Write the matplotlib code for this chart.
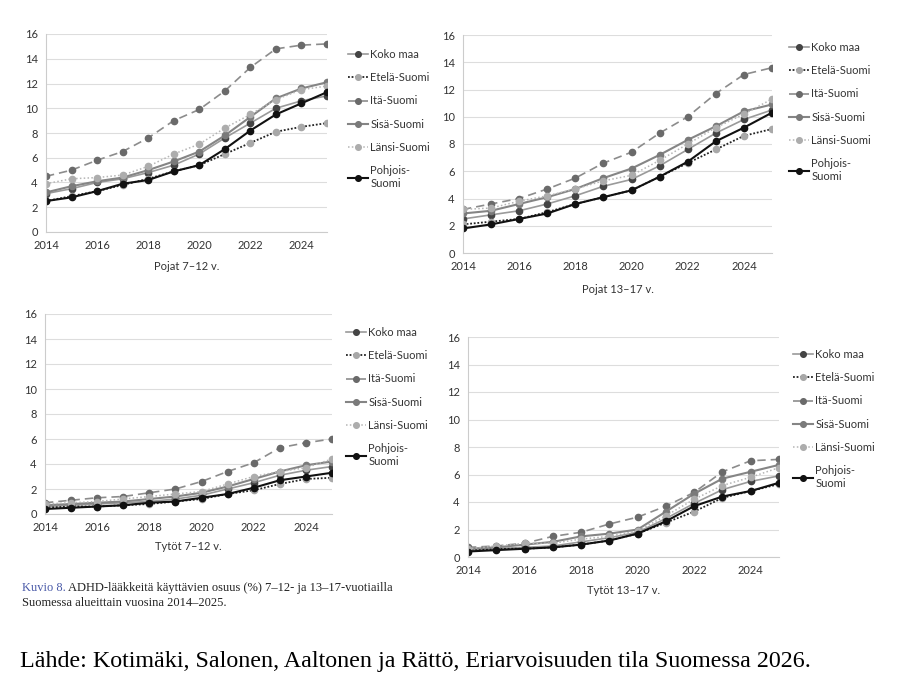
import matplotlib
matplotlib.use("Agg")
import matplotlib.pyplot as plt

W, H = 907, 682

years = list(range(2014, 2026))
regions = ["Koko maa", "Etelä-Suomi", "Itä-Suomi", "Sisä-Suomi", "Länsi-Suomi", "Pohjois-\nSuomi"]

# Pojat 7-12 v.
p712_koko = [3.1, 3.5, 4.0, 4.3, 4.8, 5.4, 6.3, 7.6, 8.8, 10.0, 10.6, 11.0]
p712_etela = [2.5, 2.9, 3.3, 3.8, 4.3, 4.9, 5.4, 6.3, 7.2, 8.1, 8.5, 8.8]
p712_ita = [4.5, 5.0, 5.8, 6.5, 7.6, 9.0, 9.9, 11.4, 13.3, 14.8, 15.1, 15.2]
p712_sisa = [3.2, 3.7, 4.1, 4.4, 5.0, 5.7, 6.5, 7.8, 9.3, 10.8, 11.6, 12.1]
p712_lansi = [3.9, 4.3, 4.4, 4.6, 5.3, 6.3, 7.1, 8.4, 9.5, 10.7, 11.5, 11.8]
p712_pohjois = [2.5, 2.8, 3.3, 3.9, 4.2, 4.9, 5.4, 6.7, 8.2, 9.5, 10.4, 11.3]

# Pojat 13-17 v.
p1317_koko = [2.5, 2.8, 3.1, 3.6, 4.2, 4.9, 5.4, 6.4, 7.6, 8.8, 9.8, 10.5]
p1317_etela = [2.1, 2.3, 2.5, 3.0, 3.6, 4.1, 4.6, 5.6, 6.6, 7.6, 8.6, 9.1]
p1317_ita = [3.2, 3.6, 4.0, 4.7, 5.5, 6.6, 7.4, 8.8, 10.0, 11.7, 13.1, 13.6]
p1317_sisa = [2.9, 3.1, 3.6, 4.1, 4.7, 5.5, 6.2, 7.2, 8.3, 9.3, 10.4, 10.9]
p1317_lansi = [3.2, 3.3, 3.8, 4.2, 4.7, 5.3, 5.7, 6.8, 8.0, 9.2, 10.2, 11.3]
p1317_pohjois = [1.8, 2.1, 2.5, 2.9, 3.6, 4.1, 4.6, 5.6, 6.7, 8.2, 9.2, 10.3]

# Tytöt 7-12 v.
t712_koko = [0.6, 0.7, 0.8, 0.9, 1.0, 1.2, 1.5, 2.0, 2.5, 3.1, 3.5, 3.8]
t712_etela = [0.5, 0.6, 0.6, 0.7, 0.8, 1.0, 1.2, 1.6, 1.9, 2.4, 2.8, 2.9]
t712_ita = [0.9, 1.1, 1.3, 1.4, 1.7, 2.0, 2.6, 3.4, 4.1, 5.3, 5.7, 6.0]
t712_sisa = [0.7, 0.8, 0.9, 1.0, 1.2, 1.4, 1.7, 2.2, 2.8, 3.4, 3.9, 4.2]
t712_lansi = [0.8, 0.9, 1.0, 1.2, 1.4, 1.6, 1.8, 2.4, 3.0, 3.4, 3.7, 4.4]
t712_pohjois = [0.4, 0.5, 0.6, 0.7, 0.9, 1.0, 1.3, 1.6, 2.1, 2.7, 3.0, 3.3]

# Tytöt 13-17 v.
t1317_koko = [0.5, 0.6, 0.7, 0.8, 1.1, 1.4, 1.8, 2.8, 3.9, 4.9, 5.5, 5.9]
t1317_etela = [0.5, 0.6, 0.6, 0.7, 0.9, 1.2, 1.7, 2.5, 3.3, 4.3, 4.8, 5.3]
t1317_ita = [0.7, 0.8, 1.0, 1.5, 1.8, 2.4, 2.9, 3.7, 4.7, 6.2, 7.0, 7.1]
t1317_sisa = [0.6, 0.7, 0.9, 1.1, 1.5, 1.7, 2.0, 3.3, 4.6, 5.7, 6.2, 6.7]
t1317_lansi = [0.6, 0.8, 1.0, 1.0, 1.3, 1.5, 1.9, 3.0, 4.2, 5.2, 5.8, 6.5]
t1317_pohjois = [0.4, 0.5, 0.6, 0.7, 0.9, 1.2, 1.7, 2.6, 3.7, 4.4, 4.8, 5.4]

# line colour, marker colour, linestyle, linewidth
styles = [
    ("#9a9a9a", "#444444", "-", 1.2),
    ("#222222", "#a8a8a8", (0, (1, 1)), 1.3),
    ("#8c8c8c", "#6a6a6a", (0, (5, 3)), 1.2),
    ("#858585", "#7a7a7a", "-", 1.5),
    ("#b5b5b5", "#adadad", (0, (1, 1.5)), 1.1),
    ("#111111", "#111111", "-", 1.5),
]

panels = [
    # series, title, plot box px (left, top, right, bottom), title y, legend (x, y)
    ([p712_koko, p712_etela, p712_ita, p712_sisa, p712_lansi, p712_pohjois],
     "Pojat 7–12 v.", (46, 34, 327, 232), 267, (338, 39)),
    ([p1317_koko, p1317_etela, p1317_ita, p1317_sisa, p1317_lansi, p1317_pohjois],
     "Pojat 13–17 v.", (463, 35, 772, 253), 289, (779, 32)),
    ([t712_koko, t712_etela, t712_ita, t712_sisa, t712_lansi, t712_pohjois],
     "Tytöt 7–12 v.", (45, 314, 332, 514), 547, (336, 317)),
    ([t1317_koko, t1317_etela, t1317_ita, t1317_sisa, t1317_lansi, t1317_pohjois],
     "Tytöt 13–17 v.", (468, 337, 779, 557), 590, (783, 339)),
]

plt.rcParams["font.family"] = ["Lato", "DejaVu Sans"]

fig = plt.figure(figsize=(W / 100, H / 100), dpi=100)

for series, title, (l, t, r, b), ty, (lx, ly) in panels:
    ax = fig.add_axes([l / W, 1 - b / H, (r - l) / W, (b - t) / H])
    for vals, name, (lc, mc, ls, lw) in zip(series, regions, styles):
        ax.plot(years, vals, color=lc, linestyle=ls, linewidth=lw, marker="o",
                markersize=4.5, markerfacecolor=mc, markeredgecolor=mc, label=name)
    ax.set_xlim(2014, 2025)
    ax.set_ylim(0, 16)
    ax.set_yticks(range(0, 17, 2))
    ax.set_xticks(range(2014, 2025, 2))
    ax.grid(axis="y", color="#dddddd", linewidth=0.8)
    ax.set_axisbelow(True)
    for s in ["top", "right"]:
        ax.spines[s].set_visible(False)
    for s in ["left", "bottom"]:
        ax.spines[s].set_color("#cccccc")
    ax.tick_params(length=0, labelsize=8, labelcolor="#333333", pad=6)
    fig.text((l + r) / 2 / W, 1 - ty / H, title, ha="center", va="center",
             fontsize=8, color="#333333")
    ax.legend(loc="upper left", bbox_to_anchor=(lx / W, 1 - ly / H),
              bbox_transform=fig.transFigure, frameon=False, fontsize=8,
              labelspacing=1.1, handlelength=1.8, handletextpad=0.2,
              markerscale=0.9, labelcolor="#333333")

# caption
cap = dict(family="Liberation Serif", fontsize=9, va="center")
fig.text(22 / W, 1 - 588 / H, "Kuvio 8.", color="#4a5aa8", **cap)
fig.text(68 / W, 1 - 588 / H,
         "ADHD-lääkkeitä käyttävien osuus (%) 7–12- ja 13–17-vuotiailla",
         color="#222222", **cap)
fig.text(22 / W, 1 - 603 / H, "Suomessa alueittain vuosina 2014–2025.",
         color="#222222", **cap)

fig.text(20 / W, 1 - 662 / H,
         "Lähde: Kotimäki, Salonen, Aaltonen ja Rättö, Eriarvoisuuden tila Suomessa 2026.",
         family="Liberation Serif", fontsize=17.3, color="black", va="center")

fig.savefig("out.png", dpi=100)
